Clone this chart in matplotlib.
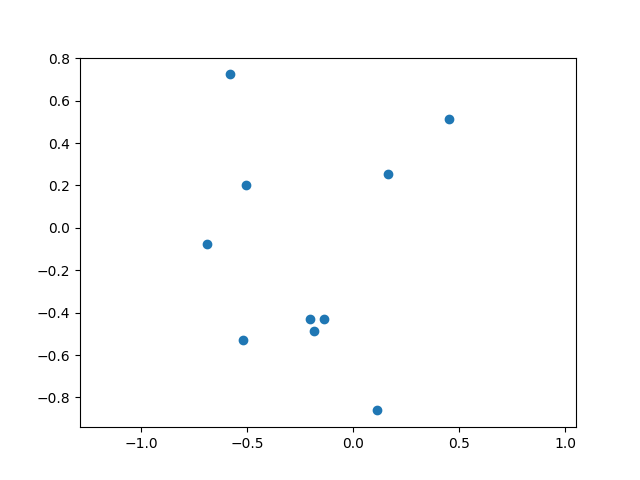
import matplotlib
matplotlib.use("Agg")
import matplotlib.pyplot as plt

# point coordinates
x = [-0.582, 0.453, -0.506, 0.162, -0.692, -0.203, -0.137, -0.184, -0.520, 0.114]
y = [0.724, 0.512, 0.201, 0.253, -0.077, -0.429, -0.429, -0.488, -0.530, -0.861]

fig, ax = plt.subplots(figsize=(6.4, 4.8), dpi=100)
ax.scatter(x, y)
ax.axis('equal')

fig.savefig("out.png")
